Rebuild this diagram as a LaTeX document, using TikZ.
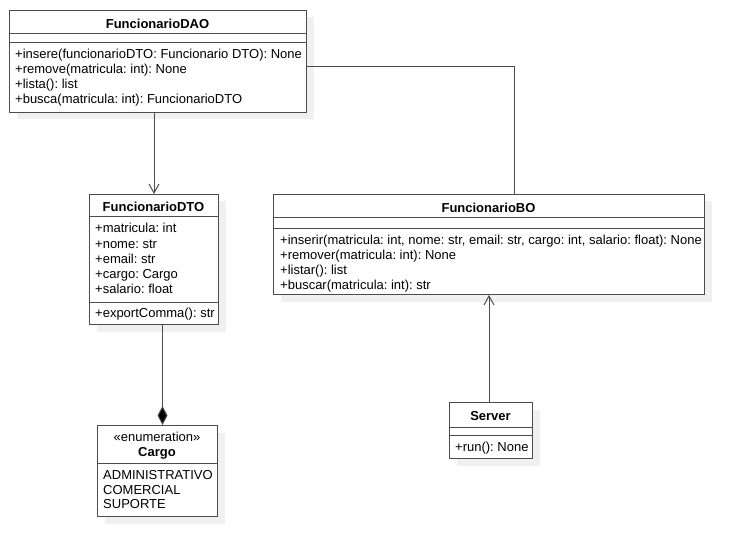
\documentclass[tikz,border=0pt]{standalone}
\usepackage{fontspec}
\setmainfont{Liberation Sans}
\usetikzlibrary{arrows.meta,shadows,calc}
\tikzset{
  cls/.style={draw=black!70, line width=1pt, fill=white, rectangle, inner sep=0pt, anchor=north west,
     general shadow={fill=black!6, shadow xshift=7pt, shadow yshift=-7pt}},
  divline/.style={draw=black!70, line width=1pt},
  txt/.style={inner sep=0pt, anchor=base west, font=\frenchspacing\fontsize{13}{15}\selectfont},
  ttl/.style={inner sep=0pt, anchor=base, font=\frenchspacing\bfseries\fontsize{13}{15}\selectfont},
  stereo/.style={inner sep=0pt, anchor=base, font=\frenchspacing\fontsize{13}{15}\selectfont},
  assocline/.style={draw=black!70, line width=1pt, -{Straight Barb[length=9pt,width=10pt]}},
  plainline/.style={draw=black!70, line width=1pt},
  compline/.style={draw=black!70, line width=1pt, -{Diamond[length=19pt,width=10pt,fill=black]}},
}
\begin{document}
\begin{tikzpicture}[x=1pt,y=-1pt]
\useasboundingbox (0,0) rectangle (744,556);

% FuncionarioDAO
\node[cls, minimum width=297pt, minimum height=102pt] (dao) at (9,10) {};
\draw[divline] (9,34) -- (306,34);
\draw[divline] (9,43) -- (306,43);
\node[ttl] (daot) at (157.5,28.5) {FuncionarioDAO};
\node[txt] (dao1) at (15,59) {+insere(funcionarioDTO: Funcionario DTO): None};
\node[txt] (dao2) at (15,74) {+remove(matricula: int): None};
\node[txt] (dao3) at (15,89) {+lista(): list};
\node[txt] (dao4) at (15,104) {+busca(matricula: int): FuncionarioDTO};

% FuncionarioDTO
\node[cls, minimum width=129pt, minimum height=130pt] (dto) at (89,194) {};
\draw[divline] (89,217) -- (218,217);
\draw[divline] (89,302) -- (218,302);
\node[ttl] (dtot) at (153.5,211.5) {FuncionarioDTO};
\node[txt] (dto1) at (95,233) {+matricula: int};
\node[txt] (dto2) at (95,248) {+nome: str};
\node[txt] (dto3) at (95,263) {+email: str};
\node[txt] (dto4) at (95,278) {+cargo: Cargo};
\node[txt] (dto5) at (95,293) {+salario: float};
\node[txt] (dto6) at (95,317) {+exportComma(): str};

% Cargo
\node[cls, minimum width=120pt, minimum height=91pt] (cargo) at (97,425) {};
\draw[divline] (97,463) -- (217,463);
\node[stereo] (cargos) at (157,441) {«enumeration»};
\node[ttl] (cargot) at (157,456) {Cargo};
\node[txt] (cargo1) at (103,479.5) {ADMINISTRATIVO};
\node[txt] (cargo2) at (103,494) {COMERCIAL};
\node[txt] (cargo3) at (103,508.5) {SUPORTE};

% FuncionarioBO
\node[cls, minimum width=431pt, minimum height=100pt] (bo) at (273,194) {};
\draw[divline] (273,218) -- (704,218);
\draw[divline] (273,228) -- (704,228);
\node[ttl] (bot) at (488.5,212) {FuncionarioBO};
\node[txt] (bo1) at (280,244) {+inserir(matricula: int, nome: str, email: str, cargo: int, salario: float): None};
\node[txt] (bo2) at (280,259) {+remover(matricula: int): None};
\node[txt] (bo3) at (280,274) {+listar(): list};
\node[txt] (bo4) at (280,289) {+buscar(matricula: int): str};

% Server
\node[cls, minimum width=83pt, minimum height=56pt] (server) at (449,402) {};
\draw[divline] (449,427) -- (532,427);
\draw[divline] (449,435) -- (532,435);
\node[ttl] (servert) at (490.5,420.5) {Server};
\node[txt] (server1) at (455,451) {+run(): None};

% connectors
\draw[assocline] (dao.south -| dto.north) -- (dto.north);
\coordinate (daoR) at ($(dao.north east)!0.55!(dao.south east)$);
\coordinate (boT) at ($(bo.north)+(25,0)$);
\draw[plainline] (daoR) -| (boT);
\coordinate (dtoB) at ($(dto.south)+(8.5,0)$);
\draw[compline] (dtoB) -- (dtoB |- cargo.north);
\draw[assocline] (bo.south |- server.north) -- (bo.south);
\end{tikzpicture}
\end{document}
